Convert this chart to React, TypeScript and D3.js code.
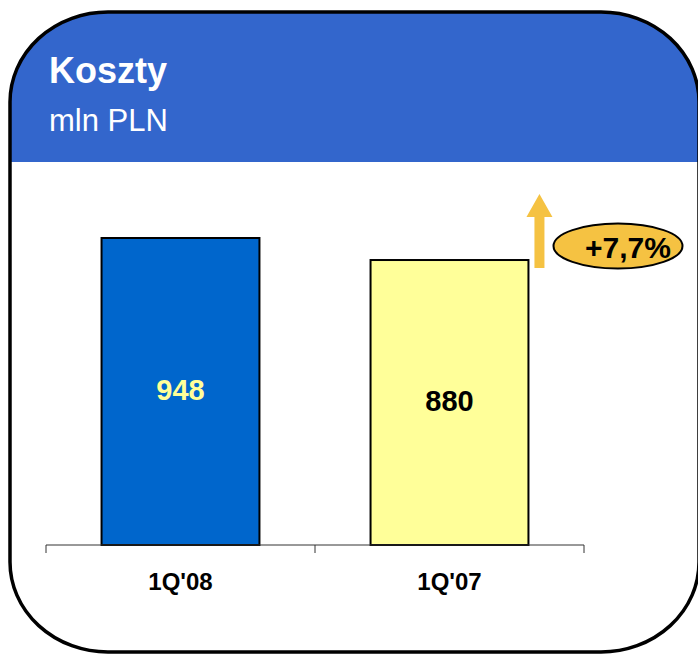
import React from "react";
import * as d3 from "d3";

const categories = ["1Q'08", "1Q'07"];
const values = [948, 880];
const valueLabels = ["948", "880"];
const changeLabel = "+7,7%";
const title = "Koszty";
const unit = "mln PLN";

const W = 698;
const H = 654;
const axisY = 545;

export default function App() {
  const x = d3.scaleBand<string>().domain(categories).range([46, 584]).padding(0);
  const y = d3.scaleLinear().domain([0, 948]).range([axisY, 238]);
  const barW = x.bandwidth() * 0.587;
  const fills = ["#0066CC", "#FFFF99"];
  const labelFills = ["#FFFF99", "#000000"];
  const font = "Liberation Sans, Arial, sans-serif";

  const yb = x(categories[1])! + x.bandwidth() / 2 + barW / 2;
  const arrowX = yb + 11;
  const arrowBottom = y(values[1]) + 8;
  const arrowTop = 194;

  const cardPath = (() => {
    const x0 = 10, y0 = 12, x1 = 699, y1 = 652, rx = 98, ry = 90;
    return `M${x0 + rx},${y0} L${x1 - rx},${y0} A${rx},${ry} 0 0 1 ${x1},${y0 + ry} L${x1},${y1 - ry} A${rx},${ry} 0 0 1 ${x1 - rx},${y1} L${x0 + rx},${y1} A${rx},${ry} 0 0 1 ${x0},${y1 - ry} L${x0},${y0 + ry} A${rx},${ry} 0 0 1 ${x0 + rx},${y0} Z`;
  })();

  return (
    <svg width={W} height={H} style={{ position: "absolute", left: 0, top: 0 }}>
      <defs>
        <clipPath id="card">
          <path d={cardPath} />
        </clipPath>
      </defs>
      <rect x={0} y={0} width={W} height={H} fill="#fff" />
      <path d={cardPath} fill="#fff" />
      <rect x={0} y={0} width={W} height={162} fill="#3366CC" clipPath="url(#card)" />
      <path d={cardPath} fill="none" stroke="#000" strokeWidth={3.5} />
      <text x={49} y={83} fill="#fff" fontFamily={font} fontWeight="bold" fontSize={36}>{title}</text>
      <text x={49} y={131} fill="#fff" fontFamily={font} fontSize={31}>{unit}</text>

      {categories.map((c, i) => {
        const cx = x(c)! + x.bandwidth() / 2;
        const top = y(values[i]);
        return (
          <g key={c}>
            <rect x={cx - barW / 2} y={top} width={barW} height={axisY - top} fill={fills[i]} stroke="#000" strokeWidth={2} />
            <text x={cx} y={(top + axisY) / 2 + 8} textAnchor="middle" fill={labelFills[i]} fontFamily={font} fontWeight="bold" fontSize={29}>{valueLabels[i]}</text>
            <text x={cx} y={590} textAnchor="middle" fill="#000" fontFamily={font} fontWeight="bold" fontSize={24}>{c}</text>
          </g>
        );
      })}

      <line x1={46} x2={584} y1={axisY} y2={axisY} stroke="#333" strokeWidth={1} />
      {[0, 1, 2].map((k) => {
        const tx = 46 + k * x.step();
        return <line key={k} x1={tx} x2={tx} y1={axisY} y2={axisY + 8} stroke="#333" strokeWidth={1} />;
      })}

      <path
        d={`M${arrowX - 5},${arrowBottom} L${arrowX - 5},${arrowTop + 23} L${arrowX - 13},${arrowTop + 23} L${arrowX},${arrowTop} L${arrowX + 13},${arrowTop + 23} L${arrowX + 5},${arrowTop + 23} L${arrowX + 5},${arrowBottom} Z`}
        fill="#F5C242"
      />
      <ellipse cx={618} cy={246} rx={64.5} ry={22.5} fill="#F5C242" stroke="#000" strokeWidth={2} />
      <text x={628} y={258} textAnchor="middle" fill="#000" fontFamily={font} fontWeight="bold" fontSize={30}>{changeLabel}</text>
    </svg>
  );
}
